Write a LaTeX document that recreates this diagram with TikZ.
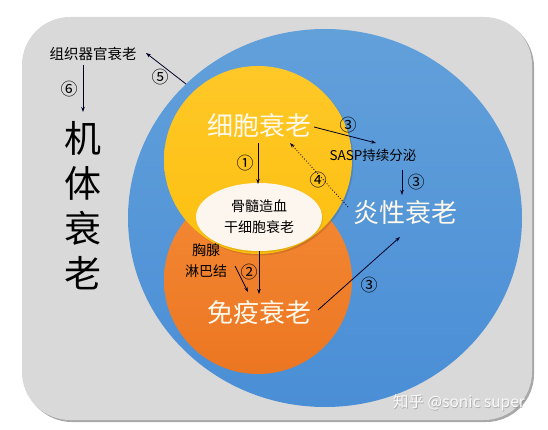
\documentclass[tikz,border=0pt]{standalone}
\usepackage{fontspec}
\setmainfont{Noto Sans CJK SC}
\usetikzlibrary{arrows.meta}
\definecolor{panelgray}{HTML}{D9D9D9}
\definecolor{shadowgray}{HTML}{A8A8A8}
\definecolor{bluetop}{HTML}{62A0DA}
\definecolor{bluebot}{HTML}{4A8ED6}
\definecolor{yeltop}{HTML}{FFC828}
\definecolor{yelbot}{HTML}{FDC010}
\definecolor{orgtop}{HTML}{F48934}
\definecolor{orgbot}{HTML}{EC7622}
\definecolor{innerwhite}{HTML}{FDF6EF}
\definecolor{labelwhite}{HTML}{FFF9EC}
\begin{document}
\begin{tikzpicture}[x=1pt,y=-1pt,
  bigwhite/.style={font=\fontsize{26}{30}\selectfont, text=labelwhite, inner sep=0pt},
  smalltxt/.style={font=\fontsize{14}{21}\selectfont, text=black, inner sep=0pt, align=center},
  numlbl/.style={font=\fontsize{17}{18}\selectfont, text=black, inner sep=0pt},
  arr/.style={-{Stealth[length=5pt,width=3.5pt]}, line width=0.8pt, draw=black!85!blue},
  dotarr/.style={arr, dotted, line width=0.9pt}]
\useasboundingbox (0,0) rectangle (548,430);
\fill[white] (0,0) rectangle (548,430);
% panel
\fill[shadowgray, rounded corners=48pt] (24,19) rectangle (534,422);
\fill[panelgray, rounded corners=48pt] (22,17) rectangle (532,420);
% circles
\shade[top color=bluetop, bottom color=bluebot] (325,218) ellipse [x radius=197pt, y radius=189pt];
\shade[top color=orgtop, bottom color=orgbot] (258,280) circle (94pt);
\fill[black, opacity=0.12] (259.5,161.5) circle (94pt);
\shade[top color=yeltop, bottom color=yelbot] (258,160) circle (94pt);
\fill[black, opacity=0.08] (260,218.5) ellipse [x radius=63pt, y radius=34pt];
\fill[innerwhite] (259,217) ellipse [x radius=63pt, y radius=34pt];
% labels
\node[bigwhite] (cell) at (259,126) {细胞衰老};
\node[bigwhite] (immune) at (259,313) {免疫衰老};
\node[bigwhite] (inflam) at (405,213) {炎性衰老};
\node[smalltxt] (hsc) at (259,217) {骨髓造血\\干细胞衰老};
\node[smalltxt] (thymus) at (206,261) {胸腺\\淋巴结};
\node[font=\fontsize{13.5}{16}\selectfont, inner sep=0pt] (sasp) at (373,155) {SASP持续分泌};
\node[font=\fontsize{14.5}{18}\selectfont, inner sep=0pt] (organ) at (93,54) {组织器官衰老};
\node[font=\fontsize{37}{45}\selectfont, align=center, inner sep=0pt] (body) at (83,206) {机\\体\\衰\\老};
\node[font=\fontsize{15.5}{18}\selectfont, text=gray, opacity=0.5, inner sep=0pt] (markshadow) at (459.7,403.7) {知乎 @sonic super};
\node[font=\fontsize{15.5}{18}\selectfont, text=white, opacity=0.9, inner sep=0pt] (mark) at (459,403) {知乎 @sonic super};
% numbers
\node[numlbl] (n6) at (69,89) {⑥};
\node[numlbl] (n5) at (160,77) {⑤};
\node[numlbl] (n1) at (245,163) {①};
\node[numlbl] (n3a) at (348,125) {③};
\node[numlbl] (n3b) at (416,182) {③};
\node[numlbl] (n4) at (318,180) {④};
\node[numlbl] (n2) at (249,272) {②};
\node[numlbl] (n3c) at (369,285) {③};
% connector end points
\coordinate (organS) at (83,65);
\coordinate (bodyN) at (83,112);
\coordinate (blueEdge) at (186,84);
\coordinate (organE) at (146,53);
\coordinate (cellS) at (258,143);
\coordinate (hscN) at (258,184);
\coordinate (cellE) at (314,127);
\coordinate (saspNW) at (376,143);
\coordinate (saspS) at (402,170);
\coordinate (inflamN) at (402,195);
\coordinate (inflamW) at (348,207);
\coordinate (cellSE) at (290,143);
\coordinate (hscS) at (259,251);
\coordinate (immuneN) at (259,294);
\coordinate (thymusSE) at (235,266);
\coordinate (immuneNW) at (248,292);
\coordinate (immuneE) at (318,310);
\coordinate (inflamS) at (400,237);
% connectors
\draw[arr] (organS) -- (bodyN);
\draw[arr] (blueEdge) -- (organE);
\draw[arr] (cellS) -- (hscN);
\draw[arr] (cellE) -- (saspNW);
\draw[arr] (saspS) -- (inflamN);
\draw[dotarr] (inflamW) -- (cellSE);
\draw[arr] (hscS) -- (immuneN);
\draw[arr] (thymusSE) -- (immuneNW);
\draw[arr] (immuneE) -- (inflamS);
\end{tikzpicture}
\end{document}
